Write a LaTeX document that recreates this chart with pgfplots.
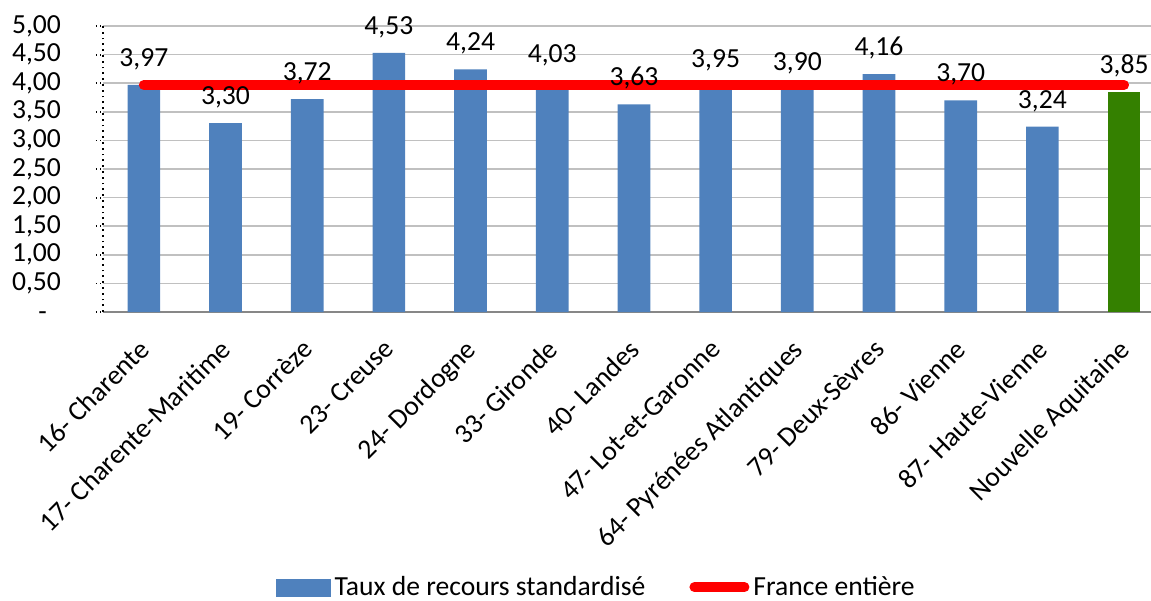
\documentclass[border=0pt]{standalone}
\usepackage{fontspec}
\setmainfont{Carlito}
\usepackage{pgfplots}
\pgfplotsset{compat=1.18}
\definecolor{barblue}{HTML}{4F81BD}
\definecolor{bargreen}{HTML}{348000}
\definecolor{gridgray}{HTML}{C0C0C0}
\definecolor{axisgray}{HTML}{878787}
\newcommand\cf{\fontsize{13.8}{16}\selectfont}

\begin{document}
\begin{tikzpicture}
\begin{axis}[
    scale only axis,
    width=524pt, height=143pt,
    xmin=-0.5, xmax=12.33,
    ymin=0, ymax=5,
    axis x line*=bottom,
    axis y line*=left,
    x axis line style={axisgray, line width=1pt},
    y axis line style={black, dotted, line width=0.9pt},
    ymajorgrids,
    grid style={gridgray, line width=0.8pt},
    ytick={0,0.5,1,1.5,2,2.5,3,3.5,4,4.5,5},
    yticklabels={-\phantom{0},{0,50},{1,00},{1,50},{2,00},{2,50},{3,00},{3,50},{4,00},{4,50},{5,00}},
    yticklabel style={font=\cf, anchor=east, xshift=-14pt},
    ytick style={black, dotted, line width=0.9pt},
    tick align=outside,
    major tick length=3.5pt,
    xtick={0,...,12},
    xticklabels={16- Charente, 17- Charente-Maritime, 19- Corrèze, 23- Creuse,
        24- Dordogne, 33- Gironde, 40- Landes, 47- Lot-et-Garonne,
        64- Pyrénées Atlantiques, 79- Deux-Sèvres, 86- Vienne,
        87- Haute-Vienne, Nouvelle Aquitaine},
    xticklabel style={font=\cf, rotate=45, anchor=north east, xshift=-8.8pt, yshift=-4.2pt, inner sep=0pt},
    x tick style={draw=none},
    extra x ticks={-0.5,0.5,...,11.5},
    extra x tick labels={},
    extra x tick style={grid=none, major tick length=4pt, tick style={draw=axisgray, solid, line width=1pt}},
    legend style={at={(0.4715,-0.962)}, anchor=center, draw=none, fill=none,
        legend columns=2, font=\cf,
        /tikz/every even column/.append style={column sep=20pt}},
    legend cell align=left,
]
% Taux de recours standardise
\addplot[ybar, bar width=0.4, bar shift=0pt, fill=barblue, draw=none,
    legend image code/.code={\fill[barblue] (0pt,-5pt) rectangle (27.5pt,4pt);}]
  coordinates {(0,3.97) (1,3.30) (2,3.72) (3,4.53) (4,4.24) (5,4.03) (6,3.63)
               (7,3.95) (8,3.90) (9,4.16) (10,3.70) (11,3.24)};
\addlegendentry{Taux de recours standardisé}
\addplot[ybar, bar width=0.4, bar shift=0pt, fill=bargreen, draw=none, forget plot]
  coordinates {(12,3.85)};
% France entiere
\addplot[red, line width=5pt, line cap=round, sharp plot, no marks,
    legend image code/.code={\draw[red, line width=5pt, line cap=round] (2.5pt,0pt) -- (27.5pt,0pt);}]
  coordinates {(0,3.97) (12,3.97)};
\addlegendentry{France entière}
% data labels on top of the line
\addplot[ybar, bar width=0.4, bar shift=0pt, draw=none, fill=none, forget plot,
    nodes near coords,
    nodes near coords style={font=\cf, anchor=south, yshift=4pt, text=black,
        /pgf/number format/.cd, use comma, fixed, fixed zerofill, precision=2, assume math mode=true}]
  coordinates {(0,3.97) (1,3.30) (2,3.72) (3,4.53) (4,4.24) (5,4.03) (6,3.63)
               (7,3.95) (8,3.90) (9,4.16) (10,3.70) (11,3.24) (12,3.85)};
\end{axis}
\pgfresetboundingbox
\path[use as bounding box] (-51.5pt,-144pt) rectangle (524pt,156pt);
\end{tikzpicture}
\end{document}
